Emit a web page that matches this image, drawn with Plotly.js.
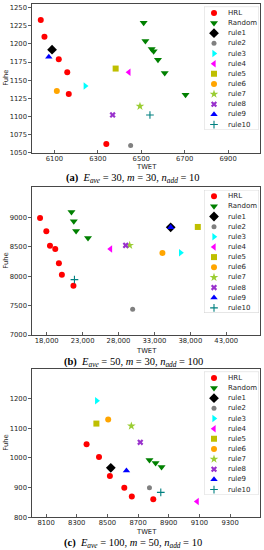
<!DOCTYPE html>
<html><head><meta charset="utf-8">
<script src="https://cdn.plot.ly/plotly-3.0.1.min.js"></script>
<style>html,body{margin:0;padding:0;background:#fff;}#chart{width:264px;height:550px;}</style>
</head><body><div id="chart"></div>
<script>
// ---------- data ----------
const seriesNames = ['HRL','Random','rule1','rule2','rule3','rule4','rule5','rule6','rule7','rule8','rule9','rule10'];

// panel (a)  E_ave=30, m=30, n_add=10
const twetA = [
  [6037, 6054, 6120, 6159, 6166, 6339],
  [6511, 6519, 6548, 6557, 6577, 6608, 6704],
  [6089],[6451],[6242],[6443],[6382],[6111],[6494],[6368],[6074],[6540]
];
const fuheA = [
  [1233, 1210, 1179, 1161, 1131, 1062],
  [1229, 1204, 1193, 1190, 1178, 1160, 1130],
  [1192],[1060],[1142],[1161],[1166],[1135],[1114],[1102],[1182],[1102]
];
// panel (b)  E_ave=50, m=30, n_add=100
const twetB = [
  [17079, 17954, 18460, 19197, 19703, 20118, 21729],
  [21453, 21776, 22098, 23755],
  [35267],[29970],[36647],[26886],[39042],[34116],[29556],[29003],[35267],[21867]
];
const fuheB = [
  [8989, 8762, 8518, 8462, 8218, 8025, 7839],
  [9091, 8932, 8768, 8649],
  [8830],[7436],[8399],[8462],[8836],[8394],[8524],[8524],[8830],[7941]
];
// panel (c)  E_ave=100, m=50, n_add=10
const twetC = [
  [8364, 8445, 8516, 8610, 8659, 8799],
  [8774, 8814, 8853],
  [8522],[8774],[8430],[9085],[8428],[8505],[8656],[8714],[8624],[8848]
];
const fuheC = [
  [1046, 1003, 939, 900, 870, 861],
  [993, 983, 970],
  [967],[900],[1193],[853],[1116],[1130],[1108],[1053],[957],[884]
];
const xTicksA = [6100, 6300, 6500, 6700, 6900];
const yTicksA = [1050, 1075, 1100, 1125, 1150, 1175, 1200, 1225, 1250];
const xTicksB = [18000, 23000, 28000, 33000, 38000, 43000];
const yTicksB = [7000, 7500, 8000, 8500, 9000];
const xTicksC = [8100, 8300, 8500, 8700, 8900, 9100, 9300];
const yTicksC = [800, 900, 1000, 1100, 1200];
const captions = [
  '<b>(a)</b>  <i>E</i><sub><i>ave</i></sub> = 30, <i>m</i> = 30, <i>n</i><sub><i>add</i></sub> = 10',
  '<b>(b)</b>  <i>E</i><sub><i>ave</i></sub> = 50, <i>m</i> = 30, <i>n</i><sub><i>add</i></sub> = 100',
  '<b>(c)</b>  <i>E</i><sub><i>ave</i></sub> = 100, <i>m</i> = 50, <i>n</i><sub><i>add</i></sub> = 10'
];

// ---------- styles ----------
const styles = [
  {symbol:'circle', color:'#ff0000', size:6},
  {symbol:'triangle-down', color:'#008000', size:7},
  {symbol:'diamond', color:'#000000', size:7.5},
  {symbol:'circle', color:'#808080', size:5},
  {symbol:'triangle-right', color:'#00ffff', size:6.5},
  {symbol:'triangle-left', color:'#ff00ff', size:6.5},
  {symbol:'square', color:'#bfbf00', size:6},
  {symbol:'circle', color:'#ffa500', size:6},
  {symbol:'star', color:'#9acd32', size:6.5},
  {symbol:'x', color:'#9932cc', size:5.5},
  {symbol:'triangle-up', color:'#0000ff', size:6.5},
  {symbol:'cross-thin-open', color:'#008080', size:5.5, lw:1.1}
];
function mk(s){
  const m = {symbol:s.symbol, color:s.color, size:s.size};
  m.line = s.lw ? {color:s.color, width:s.lw} : {width:0};
  return m;
}

const W = 264, H = 550;
const fx = px => px / W;
const fy = py => 1 - py / H;
const AXL = 32.3, AXR = 260;
const panels = [
  {tx:twetA, fy:fuheA, top:4,     bot:152.7, xr:[5998, 7047],  yr:[1050, 1255], xt:xTicksA, yt:yTicksA, xfmt:'d', twet:167,   cap:178.5},
  {tx:twetB, fy:fuheB, top:187.3, bot:335,   xr:[16000, 47700],yr:[7000, 9510], xt:xTicksB, yt:yTicksB, xfmt:',d', twet:350.5, cap:362.5},
  {tx:twetC, fy:fuheC, top:369,   bot:517.3, xr:[8010, 9495],  yr:[800, 1300],  xt:xTicksC, yt:yTicksC, xfmt:'d', twet:531.5, cap:543.5}
];

const tickFont = {family:'DejaVu Sans', size:6.8, color:'#262626'};
const traces = [], annotations = [], shapes = [];
const layout = {
  width:W, height:H, margin:{l:0,r:0,t:0,b:0}, showlegend:false,
  paper_bgcolor:'#fff', plot_bgcolor:'#fff', font:{family:'DejaVu Sans'}
};

panels.forEach((p, k) => {
  const n = k + 1, ln = k + 4;
  const xa = 'xaxis' + (n === 1 ? '' : n), ya = 'yaxis' + (n === 1 ? '' : n);
  const xr = 'x' + (n === 1 ? '' : n), yr = 'y' + (n === 1 ? '' : n);
  layout[xa] = {domain:[fx(AXL), fx(AXR)], anchor:yr, range:p.xr, tickvals:p.xt, tickformat:p.xfmt,
    ticks:'inside', ticklen:3, tickwidth:0.8, tickcolor:'#333', showline:true, mirror:true,
    linecolor:'#333', linewidth:0.9, showgrid:false, zeroline:false, tickfont:tickFont, ticklabelstandoff:-1};
  layout[ya] = {domain:[fy(p.bot), fy(p.top)], anchor:xr, range:p.yr, tickvals:p.yt,
    ticks:'outside', ticklen:3, tickwidth:0.8, tickcolor:'#333', showline:true, mirror:true,
    linecolor:'#333', linewidth:0.9, showgrid:false, zeroline:false, tickfont:tickFont};
  seriesNames.forEach((name, i) => {
    traces.push({type:'scatter', mode:'markers', name:name, x:p.tx[i], y:p.fy[i],
      xaxis:xr, yaxis:yr, marker:mk(styles[i]), cliponaxis:false, hoverinfo:'skip'});
  });
  // legend (drawn on its own hidden axes)
  const boxTop = p.top + 2.6, boxH = 123, boxL = 204, boxR = 259;
  const lx = 'x' + ln, ly = 'y' + ln;
  layout['xaxis' + ln] = {domain:[fx(boxL), fx(boxR)], anchor:ly, range:[0, boxR - boxL], visible:false, fixedrange:true};
  layout['yaxis' + ln] = {domain:[fy(boxTop + boxH), fy(boxTop)], anchor:lx, range:[boxH, 0], visible:false, fixedrange:true};
  shapes.push({type:'rect', xref:lx, yref:ly, x0:0, x1:boxR - boxL, y0:0, y1:boxH,
    fillcolor:'rgba(255,255,255,0.85)', line:{color:'#cccccc', width:0.8}, layer:'below'});
  seriesNames.forEach((name, i) => {
    const yy = 6.3 + 10.15 * i;
    traces.push({type:'scatter', mode:'markers', x:[10], y:[yy], xaxis:lx, yaxis:ly,
      marker:mk(styles[i]), hoverinfo:'skip'});
    annotations.push({xref:lx, yref:ly, x:22, y:yy, text:name, showarrow:false,
      xanchor:'left', yanchor:'middle', font:{family:'DejaVu Sans', size:7, color:'#262626'}});
  });
  // axis titles and caption
  annotations.push({xref:'paper', yref:'paper', x:fx((AXL + AXR) / 2), y:fy(p.twet), text:'TWET',
    showarrow:false, xanchor:'center', yanchor:'middle', font:{family:'DejaVu Sans', size:6.8, color:'#262626'}});
  annotations.push({xref:'paper', yref:'paper', x:fx(6.5), y:fy((p.top + p.bot) / 2), text:'Fuhe', textangle:-90,
    showarrow:false, xanchor:'center', yanchor:'middle', font:{family:'DejaVu Sans', size:6.8, color:'#262626'}});
  annotations.push({xref:'paper', yref:'paper', x:fx(133), y:fy(p.cap), text:captions[k],
    showarrow:false, xanchor:'center', yanchor:'middle', font:{family:'Liberation Serif', size:10.5, color:'#000'}});
});
layout.annotations = annotations;
layout.shapes = shapes;
Plotly.newPlot('chart', traces, layout, {staticPlot:true, displayModeBar:false});
</script>
</body></html>
